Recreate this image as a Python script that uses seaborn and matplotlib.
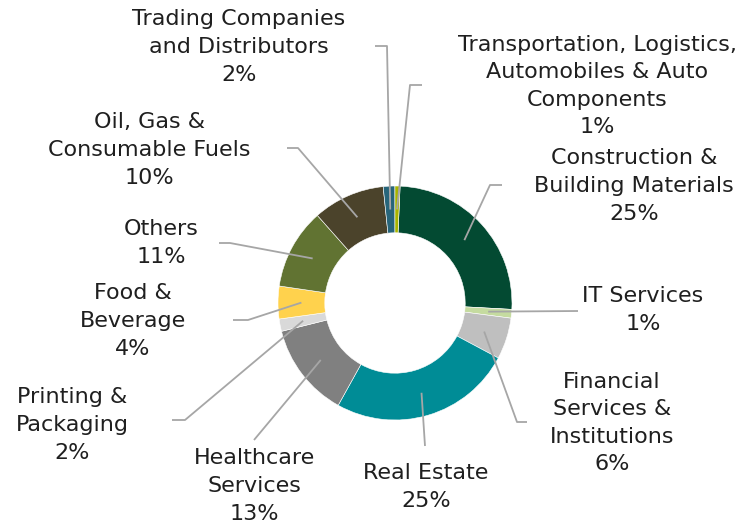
import numpy as np
import matplotlib
matplotlib.use('Agg')
import matplotlib.pyplot as plt
import seaborn as sns

# sector shares (%), clockwise from the top
sectors = ['Construction &\nBuilding Materials', 'IT Services',
           'Financial\nServices &\nInstitutions', 'Real Estate',
           'Healthcare\nServices', 'Printing &\nPackaging', 'Food &\nBeverage',
           'Others', 'Oil, Gas &\nConsumable Fuels',
           'Trading Companies\nand Distributors',
           'Transportation, Logistics,\nAutomobiles & Auto\nComponents']
shares = [25.1, 1.2, 5.7, 25.2, 13.0, 1.7, 4.5, 11.1, 9.9, 1.6, 0.7]
pct_labels = ['25%', '1%', '6%', '25%', '13%', '2%', '4%', '11%', '10%', '2%', '1%']
colors = ['#034a32', '#c5dba0', '#bfbfbf', '#008c96', '#808080', '#d9d9d9',
          '#ffd24d', '#617332', '#4b432b', '#27657a', '#a8b400']

sns.set_theme(style='white')
plt.rcParams['font.family'] = ['DejaVu Sans']

W, H = 740, 529
CX, CY, R = 395, 303, 117


def px(x, y):
    # pixel position -> data units (pie centred at 0,0 with radius 1)
    return (x - CX) / R, (CY - y) / R


fig = plt.figure(figsize=(W / 100, H / 100), dpi=100)
ax = fig.add_axes([0, 0, 1, 1])
wedges, _ = ax.pie(shares, colors=colors, startangle=87.5, counterclock=False,
                   radius=1, wedgeprops=dict(width=0.4, edgecolor='white', linewidth=0.4))
ax.set_xlim(-CX / R, (W - CX) / R)
ax.set_ylim(-(H - CY) / R, CY / R)
ax.set_aspect('equal')
ax.axis('off')

# label layout in pixels: text centre, then leader line end and elbow
layout = [
    ((634, 186), (502, 185), (490, 185)),
    ((643, 310), (578, 311), (578, 311)),
    ((612, 423), (527, 422), (517, 422)),
    ((426, 487), (425, 446), (425, 446)),
    ((254, 486), (254, 440), (254, 440)),
    ((72, 425), (172, 420), (185, 420)),
    ((133, 321), (233, 320), (248, 320)),
    ((161, 243), (219, 243), (230, 243)),
    ((149, 150), (287, 148), (298, 148)),
    ((239, 47), (375, 46), (387, 46)),
    ((597, 86), (422, 85), (410, 85)),
]

for w, name, pct, (txt, end, elbow) in zip(wedges, sectors, pct_labels, layout):
    mid = np.deg2rad((w.theta1 + w.theta2) / 2)
    ax_, ay_ = 0.8 * np.cos(mid), 0.8 * np.sin(mid)
    ex, ey = px(*end)
    bx, by = px(*elbow)
    ax.plot([ex, bx, ax_], [ey, by, ay_], color='#a6a6a6', lw=1.3, zorder=3,
            solid_capstyle='butt')
    tx, ty = px(*txt)
    ax.text(tx, ty, name + '\n' + pct, ha='center', va='center', fontsize=16,
            color='#1f1f1f', linespacing=1.47)

fig.savefig('out.png', dpi=100)
